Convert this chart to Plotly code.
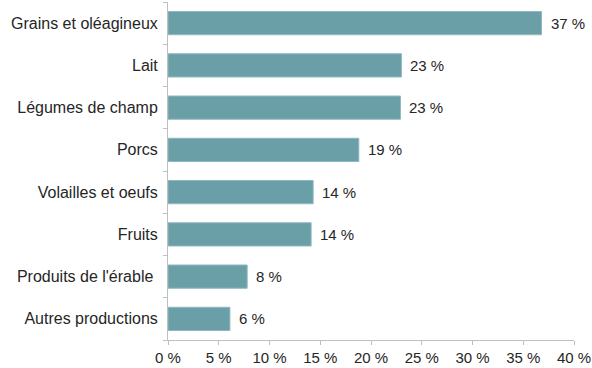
import plotly.graph_objects as go

# Share of farm revenue by production type (%)
categories = [
    "Grains et oléagineux",
    "Lait",
    "Légumes de champ",
    "Porcs",
    "Volailles et oeufs",
    "Fruits",
    "Produits de l'érable ",
    "Autres productions",
]
shares = [36.8, 23.0, 22.9, 18.8, 14.3, 14.1, 7.8, 6.1]
x_ticks = [0, 5, 10, 15, 20, 25, 30, 35, 40]
x_tick_labels = [f"{v} %" for v in x_ticks]

bar_color = "#6a9fa8"
axis_color = "#bfbfbf"
text_color = "#262626"
font_family = "Liberation Sans, Arial, sans-serif"
font_size = 15

fig = go.Figure(
    go.Bar(
        x=shares,
        y=categories,
        orientation="h",
        width=0.55,
        marker=dict(color=bar_color, line=dict(color="#8fb9c0", width=1)),
        hoverinfo="skip",
    )
)

# Value labels placed just past the end of each bar
for cat, val in zip(categories, shares):
    fig.add_annotation(
        x=val,
        y=cat,
        text=f"{val:.0f} %",
        showarrow=False,
        xanchor="left",
        yanchor="middle",
        xshift=7,
        font=dict(size=font_size, color=text_color, family=font_family),
    )

fig.update_layout(
    width=592,
    height=368,
    margin=dict(l=168, r=18, t=2, b=28),
    paper_bgcolor="white",
    plot_bgcolor="white",
    showlegend=False,
    font=dict(family=font_family, size=font_size, color=text_color),
)

fig.update_xaxes(
    range=[0, 40],
    tickvals=x_ticks,
    ticktext=x_tick_labels,
    showgrid=False,
    zeroline=False,
    showline=True,
    linecolor=axis_color,
    linewidth=1,
    ticks="outside",
    ticklen=4,
    tickcolor=axis_color,
    tickfont=dict(size=font_size, color=text_color),
)

fig.update_yaxes(
    categoryorder="array",
    categoryarray=categories[::-1],
    autorange=False,
    range=[-0.5, len(categories) - 0.5],
    showgrid=False,
    showline=True,
    linecolor=axis_color,
    linewidth=1,
    ticks="outside",
    tickson="boundaries",
    ticklen=4,
    tickcolor=axis_color,
    tickfont=dict(size=16, color=text_color),
    ticklabelstandoff=6,
)

fig.write_html("out.html")
